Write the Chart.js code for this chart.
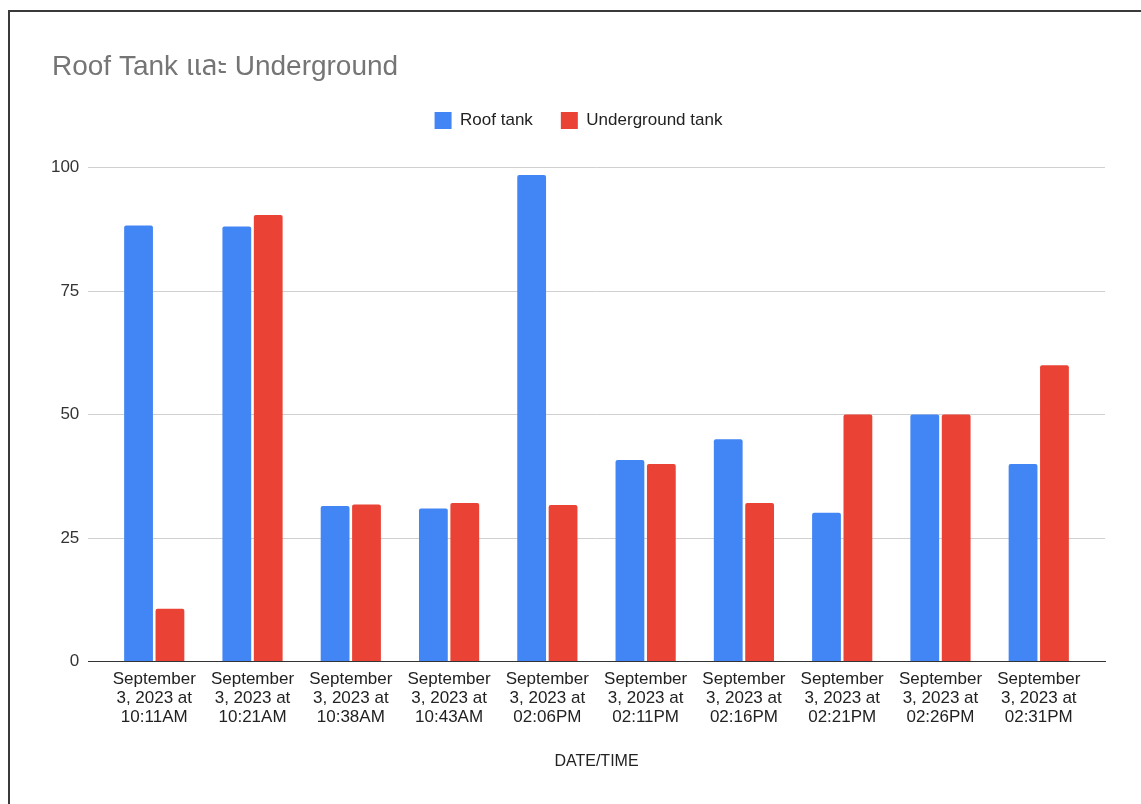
<!DOCTYPE html>
<html>
<head>
<meta charset="utf-8">
<title>Roof Tank และ Underground</title>
<script src="https://cdn.jsdelivr.net/npm/chart.js@4.4.1/dist/chart.umd.min.js"></script>
<style>
  html, body { margin: 0; padding: 0; background: #ffffff; overflow: hidden; }
  body { width: 1141px; height: 804px; position: relative; }
  #frame {
    position: absolute; left: 8px; top: 10px; width: 1200px; height: 1000px;
    border-left: 2px solid #3a3a3a; border-top: 2px solid #3a3a3a;
    box-sizing: border-box; pointer-events: none;
  }
  #chart { position: absolute; left: 0; top: 0; }
</style>
</head>
<body>
<canvas id="chart" width="1141" height="772"></canvas>
<div id="frame"></div>
<script>
// Sampling times (x categories), each shown on three lines
const categories = [
  ['September', '3, 2023 at', '10:11AM'],
  ['September', '3, 2023 at', '10:21AM'],
  ['September', '3, 2023 at', '10:38AM'],
  ['September', '3, 2023 at', '10:43AM'],
  ['September', '3, 2023 at', '02:06PM'],
  ['September', '3, 2023 at', '02:11PM'],
  ['September', '3, 2023 at', '02:16PM'],
  ['September', '3, 2023 at', '02:21PM'],
  ['September', '3, 2023 at', '02:26PM'],
  ['September', '3, 2023 at', '02:31PM']
];

// Water level readings
const roofTank = [88.3, 88.1, 31.5, 31.0, 98.5, 40.8, 45.0, 30.1, 50.0, 40.0];
const undergroundTank = [10.7, 90.4, 31.8, 32.1, 31.7, 40.0, 32.1, 50.0, 50.0, 60.0];

const seriesNames = ['Roof tank', 'Underground tank'];
const yTicks = [0, 25, 50, 75, 100];

const FONT = "Arial, 'Liberation Sans', 'Noto Sans Thai', 'DejaVu Sans', sans-serif";

// Leave extra room between the legend row and the plot
const legendSpacer = {
  id: 'legendSpacer',
  beforeInit(chart) {
    const origFit = chart.legend.fit;
    chart.legend.fit = function () {
      origFit.call(this);
      this.height += 28.6;
    };
  }
};

new Chart(document.getElementById('chart'), {
  type: 'bar',
  data: {
    labels: categories,
    datasets: [
      {
        label: seriesNames[0],
        data: roofTank,
        backgroundColor: '#4285F4',
        borderWidth: 0,
        borderRadius: 2,
        borderSkipped: 'bottom'
      },
      {
        label: seriesNames[1],
        data: undergroundTank,
        backgroundColor: '#EA4335',
        borderWidth: 0,
        borderRadius: 2,
        borderSkipped: 'bottom'
      }
    ]
  },
  plugins: [legendSpacer],
  options: {
    responsive: false,
    animation: false,
    devicePixelRatio: 1,
    categoryPercentage: 0.639,
    barPercentage: 0.917,
    layout: { padding: { top: 10, left: 52, right: 36, bottom: 0 } },
    plugins: {
      title: {
        display: true,
        text: 'Roof Tank และ Underground',
        align: 'start',
        color: '#757575',
        font: { family: FONT, size: 28, weight: 'normal', lineHeight: 1.2 },
        padding: { top: 40.5, bottom: 0 }
      },
      legend: {
        display: true,
        position: 'top',
        align: 'center',
        labels: {
          color: '#222222',
          font: { family: FONT, size: 17 },
          boxWidth: 17,
          boxHeight: 17,
          padding: 28
        }
      },
      tooltip: { enabled: false }
    },
    scales: {
      x: {
        type: 'category',
        offset: false,
        // widen the outer margins so the first/last groups sit ~2/3 of a step from the edges
        afterBuildTicks(scale) {
          scale._startValue = -0.674;
          scale._valueRange = categories.length - 1 + 2 * 0.674;
        },
        grid: { display: false, drawTicks: false },
        border: { display: true, color: '#333333', width: 1 },
        ticks: {
          color: '#222222',
          font: { family: FONT, size: 17, lineHeight: 19.2 / 17 },
          padding: 8,
          maxRotation: 0,
          minRotation: 0,
          autoSkip: false
        },
        title: {
          display: true,
          text: 'DATE/TIME',
          color: '#222222',
          font: { family: FONT, size: 16, lineHeight: 20.4 / 16 },
          padding: { top: 16.5, bottom: 0 }
        }
      },
      y: {
        min: 0,
        max: 100,
        afterBuildTicks(scale) {
          scale.ticks = yTicks.map(v => ({ value: v }));
        },
        afterFit(scale) { scale.width = 36; },
        grid: {
          drawTicks: false,
          color: ctx => (ctx.tick && ctx.tick.value === 0) ? '#333333' : '#d0d0d0',
          lineWidth: 1
        },
        border: { display: false },
        ticks: {
          color: '#333333',
          font: { family: FONT, size: 17 },
          padding: 8.7
        }
      }
    }
  }
});
</script>
</body>
</html>
